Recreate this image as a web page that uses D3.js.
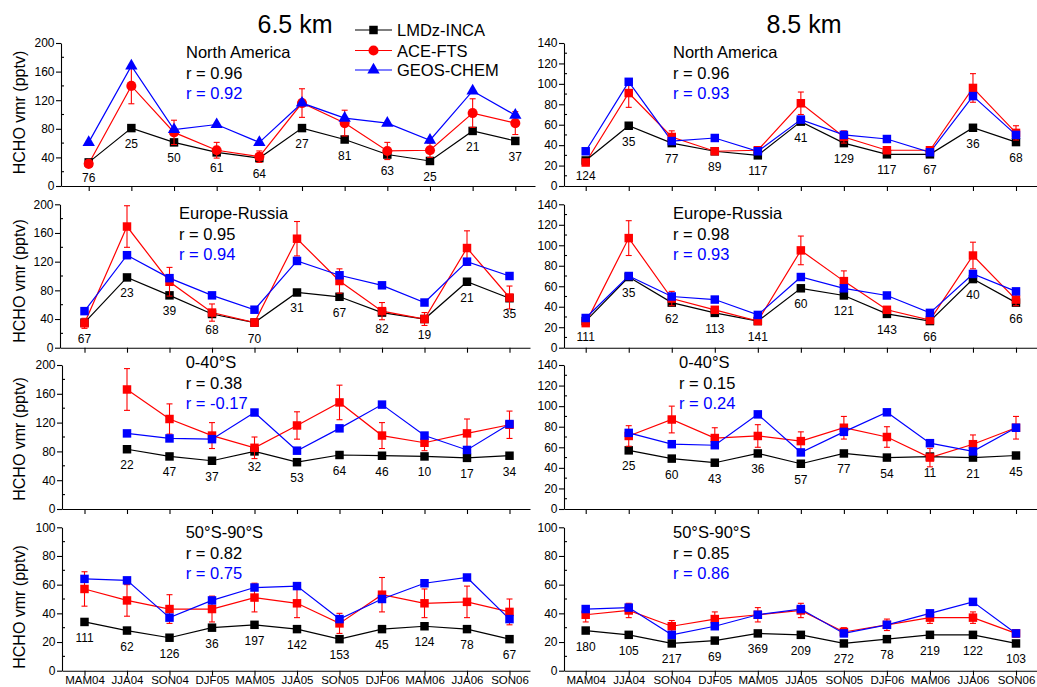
<!DOCTYPE html>
<html>
<head>
<meta charset="utf-8">
<script src="https://cdn.jsdelivr.net/npm/d3@7"></script>
<style>
  body { margin: 0; background: #fff; }
  svg { display: block; font-family: "Liberation Sans", Arial, sans-serif; }
</style>
</head>
<body>
<svg id="chart" width="1037" height="687"></svg>
<script>
// Seasons on the x axis
const seasons = ["MAM04", "JJA04", "SON04", "DJF05", "MAM05", "JJA05", "SON05", "DJF06", "MAM06", "JJA06", "SON06"];

// ---- 6.5 km ----
// North America
const na65Lmdz   = [33, 81, 61, 47, 39, 81, 65, 44, 35, 77, 63];
const na65Ace    = [31, 140, 75, 50, 41, 116, 88, 49, 50, 102, 88];
const na65AceErr = [5, 25, 17, 11, 8, 20, 18, 12, 10, 20, 16];
const na65Geos   = [61, 168, 79, 86, 61, 116, 95, 88, 64, 133, 99];
const na65N      = [76, 25, 50, 61, 64, 27, 81, 63, 25, 21, 37];
// Europe-Russia
const er65Lmdz   = [35, 98, 73, 47, 35, 77, 71, 49, 40, 92, 69];
const er65Ace    = [34, 169, 92, 49, 35, 152, 93, 51, 40, 139, 70];
const er65AceErr = [7, 29, 20, 12, 5, 24, 17, 12, 9, 24, 16];
const er65Geos   = [51, 129, 97, 73, 53, 121, 101, 87, 63, 120, 100];
const er65N      = [67, 23, 39, 68, 70, 31, 67, 82, 19, 21, 35];
// 0-40°S
const s65Lmdz    = [null, 83, 73, 67, 80, 65, 75, 74, 73, 71, 74];
const s65Ace     = [null, 166, 125, 102, 85, 116, 148, 102, 92, 105, 117];
const s65AceErr  = [null, 29, 21, 18, 15, 19, 24, 18, 11, 20, 19];
const s65Geos    = [null, 105, 98, 97, 134, 81, 112, 145, 102, 82, 118];
const s65N       = [null, 22, 47, 37, 32, 53, 64, 46, 10, 17, 34];
// 50°S-90°S
const p65Lmdz    = [34, 28, 23, 30, 32, 29, 22, 29, 31, 29, 22];
const p65Ace     = [57, 49, 43, 43, 51, 47, 33, 53, 47, 48, 41];
const p65AceErr  = [12, 11, 10, 9, 10, 10, 7, 12, 10, 11, 9];
const p65Geos    = [64, 63, 37, 49, 58, 59, 36, 50, 61, 65, 36];
const p65N       = [111, 62, 126, 36, 197, 142, 153, 45, 124, 78, 67];

// ---- 8.5 km ----
const na85Lmdz   = [25, 59, 42, 34, 30, 63, 42, 31, 31, 57, 43];
const na85Ace    = [23, 91, 48, 34, 35, 81, 48, 35, 35, 96, 52];
const na85AceErr = [3, 14, 6, 2, 3, 11, 6, 3, 3, 14, 7];
const na85Geos   = [34, 102, 44, 47, 34, 65, 50, 46, 33, 88, 50];
const na85N      = [124, 35, 77, 89, 117, 41, 129, 117, 67, 36, 68];

const er85Lmdz   = [26, 69, 44, 34, 26, 58, 51, 33, 26, 67, 44];
const er85Ace    = [24, 107, 48, 37, 26, 95, 65, 37, 27, 90, 47];
const er85AceErr = [2, 17, 7, 3, 2, 14, 10, 3, 3, 13, 6];
const er85Geos   = [29, 70, 50, 47, 32, 69, 58, 51, 34, 72, 55];
const er85N      = [111, 35, 62, 113, 141, 60, 121, 143, 66, 40, 66];

const s85Lmdz    = [null, 57, 49, 45, 54, 44, 54, 50, 51, 50, 52];
const s85Ace     = [null, 71, 87, 69, 71, 66, 79, 70, 50, 63, 79];
const s85AceErr  = [null, 10, 13, 10, 11, 9, 11, 10, 9, 9, 11];
const s85Geos    = [null, 74, 63, 62, 92, 55, 75, 94, 64, 56, 79];
const s85N       = [null, 25, 60, 43, 36, 57, 77, 54, 11, 21, 45];

const p85Lmdz    = [28, 25, 19, 21, 26, 25, 19, 22, 25, 25, 19];
const p85Ace     = [39, 42, 31, 36, 39, 42, 27, 32, 37, 37, 26];
const p85AceErr  = [5, 5, 4, 5, 5, 5, 3, 4, 4, 4, 2.5];
const p85Geos    = [43, 44, 25, 31, 39, 43, 26, 32, 40, 48, 26];
const p85N       = [180, 105, 217, 69, 369, 209, 272, 78, 219, 122, 103];

// Region names and correlation coefficients (LMDz vs ACE, GEOS vs ACE)
const regions = ["North America", "Europe-Russia", "0-40°S", "50°S-90°S"];
const r65Lmdz = ["0.96", "0.95", "0.38", "0.82"];
const r65Geos = ["0.92", "0.94", "-0.17", "0.75"];
const r85Lmdz = ["0.96", "0.98", "0.15", "0.85"];
const r85Geos = ["0.93", "0.93", "0.24", "0.86"];

// Y axis extents per row and column
const yMax65 = [200, 200, 200, 100];
const yStep65 = [40, 40, 40, 20];
const yMax85 = [140, 140, 140, 100];
const yStep85 = [20, 20, 20, 20];

const seriesNames = ["LMDz-INCA", "ACE-FTS", "GEOS-CHEM"];
const colors = { lmdz: "#000000", ace: "#ff0000", geos: "#0000ff" };

// ---- layout ----
const rows = [
  { top: 43,    bottom: 186,   titleY: 112.5, labelY: 58.3 },
  { top: 204.3, bottom: 347.7, titleY: 281,   labelY: 219 },
  { top: 365,   bottom: 509,   titleY: 439,   labelY: 368.3 },
  { top: 527.3, bottom: 670.7, titleY: 607,   labelY: 538.3 }
];
const colLayout = [
  [ { axis: 61, first: 88.7, last: 515.3, end: 535, lx: 186 },
    { axis: 60, first: 84.5, last: 509.5, end: 530, lx: 179 },
    { axis: 62, first: 84.5, last: 509.5, end: 530, lx: 185.7 },
    { axis: 62, first: 84.5, last: 509.5, end: 530, lx: 185.7 } ],
  [ { axis: 564, first: 585.7, last: 1016, end: 1037, lx: 673 },
    { axis: 564, first: 585.7, last: 1016, end: 1037, lx: 673 },
    { axis: 564, first: 585.7, last: 1016, end: 1037, lx: 679 },
    { axis: 564, first: 585.7, last: 1016, end: 1037, lx: 673 } ]
];

const panels = [
  { row: 0, col: 0, lmdz: na65Lmdz, ace: na65Ace, err: na65AceErr, geos: na65Geos, n: na65N, fancy: true },
  { row: 1, col: 0, lmdz: er65Lmdz, ace: er65Ace, err: er65AceErr, geos: er65Geos, n: er65N },
  { row: 2, col: 0, lmdz: s65Lmdz,  ace: s65Ace,  err: s65AceErr,  geos: s65Geos,  n: s65N },
  { row: 3, col: 0, lmdz: p65Lmdz,  ace: p65Ace,  err: p65AceErr,  geos: p65Geos,  n: p65N },
  { row: 0, col: 1, lmdz: na85Lmdz, ace: na85Ace, err: na85AceErr, geos: na85Geos, n: na85N },
  { row: 1, col: 1, lmdz: er85Lmdz, ace: er85Ace, err: er85AceErr, geos: er85Geos, n: er85N },
  { row: 2, col: 1, lmdz: s85Lmdz,  ace: s85Ace,  err: s85AceErr,  geos: s85Geos,  n: s85N },
  { row: 3, col: 1, lmdz: p85Lmdz,  ace: p85Ace,  err: p85AceErr,  geos: p85Geos,  n: p85N }
];

const svg = d3.select("#chart");
const FONT = '"Liberation Sans", Arial, sans-serif';

const symSquare = d3.symbol().type(d3.symbolSquare).size(72)();
const symCircle = d3.symbol().type(d3.symbolCircle).size(80)();
const symTriangle = d3.symbol().type(d3.symbolTriangle).size(66)();

function drawPanel(p) {
  const R = rows[p.row];
  const L = colLayout[p.col][p.row];
  const yMax = p.col === 0 ? yMax65[p.row] : yMax85[p.row];
  const yStep = p.col === 0 ? yStep65[p.row] : yStep85[p.row];

  const step = (L.last - L.first) / 10;
  const x = d3.scaleLinear()
    .domain([(L.axis - L.first) / step, 10 + (L.end - L.last) / step])
    .range([L.axis, L.end]);
  const y = d3.scaleLinear().domain([0, yMax]).range([R.bottom, R.top]);

  const g = svg.append("g");

  // x axis (season names only under the bottom row)
  const xAxis = d3.axisBottom(x)
    .tickValues(d3.range(seasons.length))
    .tickFormat(i => p.row === 3 ? seasons[i] : "")
    .tickSize(5).tickSizeOuter(0).tickPadding(0);
  const gx = g.append("g").attr("transform", `translate(0,${R.bottom})`).call(xAxis);
  gx.selectAll("text").attr("font-size", 11.5).attr("font-family", FONT).attr("fill", "#000");

  // y axis
  const yAxis = d3.axisLeft(y)
    .tickValues(d3.range(0, yMax + 0.1, yStep))
    .tickSize(5).tickSizeOuter(0).tickPadding(1.5);
  const gy = g.append("g").attr("transform", `translate(${L.axis},0)`).call(yAxis);
  gy.selectAll("text").attr("font-size", 12).attr("font-family", FONT).attr("fill", "#000");
  // minor ticks pointing inward
  gy.selectAll(".minor").data(d3.range(yStep / 2, yMax, yStep)).enter()
    .append("line").attr("class", "minor")
    .attr("x1", 0).attr("x2", 3).attr("y1", d => y(d)).attr("y2", d => y(d))
    .attr("stroke", "#000");

  [gx, gy].forEach(a => {
    a.selectAll("path, line").attr("stroke", "#000").attr("stroke-width", 1.1);
  });

  const idx = d3.range(seasons.length);
  const line = arr => d3.line()
    .defined(i => arr[i] != null)
    .x(i => x(i)).y(i => y(arr[i]))(idx);

  // series lines
  g.append("path").attr("d", line(p.lmdz)).attr("fill", "none").attr("stroke", colors.lmdz).attr("stroke-width", 1.2);
  g.append("path").attr("d", line(p.ace)).attr("fill", "none").attr("stroke", colors.ace).attr("stroke-width", 1.2);
  g.append("path").attr("d", line(p.geos)).attr("fill", "none").attr("stroke", colors.geos).attr("stroke-width", 1.2);

  const valid = arr => idx.filter(i => arr[i] != null);

  // LMDz markers
  g.selectAll(".mk-lmdz").data(valid(p.lmdz)).enter().append("path")
    .attr("d", symSquare).attr("fill", colors.lmdz)
    .attr("transform", i => `translate(${x(i)},${y(p.lmdz[i])})`);

  // ACE-FTS error bars
  const eb = g.selectAll(".eb").data(valid(p.ace)).enter().append("g")
    .attr("stroke", colors.ace).attr("stroke-width", 1.1);
  eb.append("line")
    .attr("x1", i => x(i)).attr("x2", i => x(i))
    .attr("y1", i => y(p.ace[i] - p.err[i])).attr("y2", i => y(p.ace[i] + p.err[i]));
  eb.append("line")
    .attr("x1", i => x(i) - 3).attr("x2", i => x(i) + 3)
    .attr("y1", i => y(p.ace[i] + p.err[i])).attr("y2", i => y(p.ace[i] + p.err[i]));
  eb.append("line")
    .attr("x1", i => x(i) - 3).attr("x2", i => x(i) + 3)
    .attr("y1", i => y(p.ace[i] - p.err[i])).attr("y2", i => y(p.ace[i] - p.err[i]));

  // ACE-FTS markers
  g.selectAll(".mk-ace").data(valid(p.ace)).enter().append("path")
    .attr("d", p.fancy ? symCircle : symSquare).attr("fill", colors.ace)
    .attr("transform", i => `translate(${x(i)},${y(p.ace[i])})`);

  // GEOS-CHEM markers
  g.selectAll(".mk-geos").data(valid(p.geos)).enter().append("path")
    .attr("d", p.fancy ? symTriangle : symSquare).attr("fill", colors.geos)
    .attr("transform", i => `translate(${x(i)},${y(p.geos[i])})`);

  // number of profiles under each LMDz point
  g.selectAll(".cnt").data(valid(p.n)).enter().append("text")
    .attr("x", i => x(i)).attr("y", i => y(p.lmdz[i]) + 20)
    .attr("text-anchor", "middle").attr("font-size", 12).attr("fill", "#000")
    .text(i => p.n[i]);

  // region name and correlations
  const rA = p.col === 0 ? r65Lmdz[p.row] : r85Lmdz[p.row];
  const rG = p.col === 0 ? r65Geos[p.row] : r85Geos[p.row];
  g.append("text").attr("x", L.lx).attr("y", R.labelY).attr("font-size", 16.5).attr("fill", "#000").text(regions[p.row]);
  g.append("text").attr("x", L.lx).attr("y", R.labelY + 20.5).attr("font-size", 16.5).attr("fill", "#000").text("r = " + rA);
  g.append("text").attr("x", L.lx).attr("y", R.labelY + 40.5).attr("font-size", 16.5).attr("fill", colors.geos).text("r = " + rG);

  // y axis title on the left column
  if (p.col === 0) {
    g.append("text")
      .attr("transform", `translate(25,${R.titleY}) rotate(-90)`)
      .attr("text-anchor", "middle").attr("font-size", 16).attr("fill", "#000")
      .text("HCHO vmr (pptv)");
  }
}

panels.forEach(drawPanel);

// column headings
svg.append("text").attr("x", 295).attr("y", 33).attr("text-anchor", "middle")
  .attr("font-size", 25).attr("fill", "#000").text("6.5 km");
svg.append("text").attr("x", 804).attr("y", 33).attr("text-anchor", "middle")
  .attr("font-size", 25).attr("fill", "#000").text("8.5 km");

// legend
const legendY = [30, 50.5, 70];
const legendColors = [colors.lmdz, colors.ace, colors.geos];
const legendSyms = [symSquare, symCircle, symTriangle];
const lg = svg.append("g");
seriesNames.forEach((name, k) => {
  lg.append("line").attr("x1", 355).attr("x2", 392).attr("y1", legendY[k]).attr("y2", legendY[k])
    .attr("stroke", legendColors[k]).attr("stroke-width", 1.2);
  lg.append("path").attr("d", legendSyms[k]).attr("fill", legendColors[k])
    .attr("transform", `translate(373.5,${legendY[k]})`);
  lg.append("text").attr("x", 397).attr("y", legendY[k] + 6).attr("font-size", 16.5)
    .attr("fill", "#000").text(name);
});
</script>
</body>
</html>
